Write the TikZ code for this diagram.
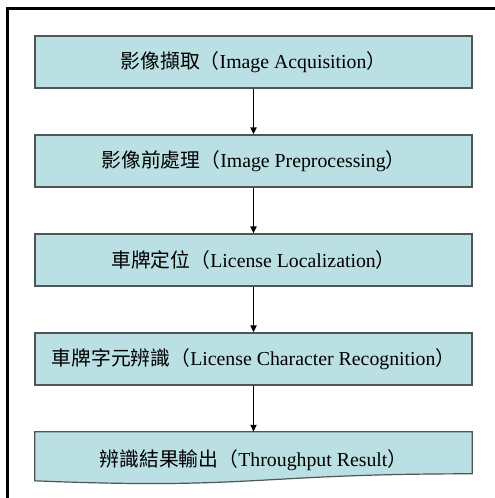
\documentclass[tikz,border=0pt]{standalone}
\usepackage{fontspec}
\setmainfont{Liberation Serif}
\newfontfamily\cjk{Noto Sans CJK TC}
\usetikzlibrary{arrows.meta,calc}
\definecolor{boxfill}{RGB}{186,224,228}
\definecolor{boxline}{RGB}{80,86,86}
\begin{document}
\begin{tikzpicture}[x=1pt,y=-1pt,
  stepbox/.style={draw=boxline,line width=1.2pt,fill=boxfill,rectangle,
    minimum width=437pt,minimum height=52pt,inner sep=0pt,
    font=\fontsize{19.8}{23}\selectfont},
  textonly/.style={rectangle,minimum width=437pt,minimum height=52pt,inner sep=0pt,
    font=\fontsize{19.8}{23}\selectfont},
  flow/.style={draw=black,line width=1.8pt,-{Triangle[length=7pt,width=6pt]}}]
\useasboundingbox (0,0) rectangle (495,498);
\fill[white] (0,0) rectangle (495,498);
% outer frame (cut off at right and bottom)
\draw[line width=3pt] (7.5,500) -- (7.5,8.5) -- (500,8.5);
\node[stepbox] (b1) at (253.5,62) {{\cjk 影像擷取（}Image Acquisition{\cjk ）}};
\node[stepbox] (b2) at (253.5,161) {{\cjk 影像前處理（}Image Preprocessing{\cjk ）}};
\node[stepbox] (b3) at (253.5,260) {{\cjk 車牌定位（}License Localization{\cjk ）}};
\node[stepbox] (b4) at (253.5,359) {{\cjk 車牌字元辨識（}License Character Recognition{\cjk ）}};
\node[textonly] (b5) at (253.5,458) {};
\path[draw=boxline,line width=1.2pt,fill=boxfill]
  (b5.north west) -- (b5.north east) -- ([yshift=-42pt]b5.north east)
  .. controls ([xshift=-218.5pt,yshift=-42pt]b5.north east)
  and ([xshift=218.5pt,yshift=-58pt]b5.north west)
  .. ([yshift=-49pt]b5.north west) -- cycle;
\node[textonly] (t5) at ([yshift=-2pt]b5.center) {{\cjk 辨識結果輸出（}Throughput Result{\cjk ）}};
\draw[flow] (b1.south) -- (b2.north);
\draw[flow] (b2.south) -- (b3.north);
\draw[flow] (b3.south) -- (b4.north);
\draw[flow] (b4.south) -- (b5.north);
\end{tikzpicture}
\end{document}
